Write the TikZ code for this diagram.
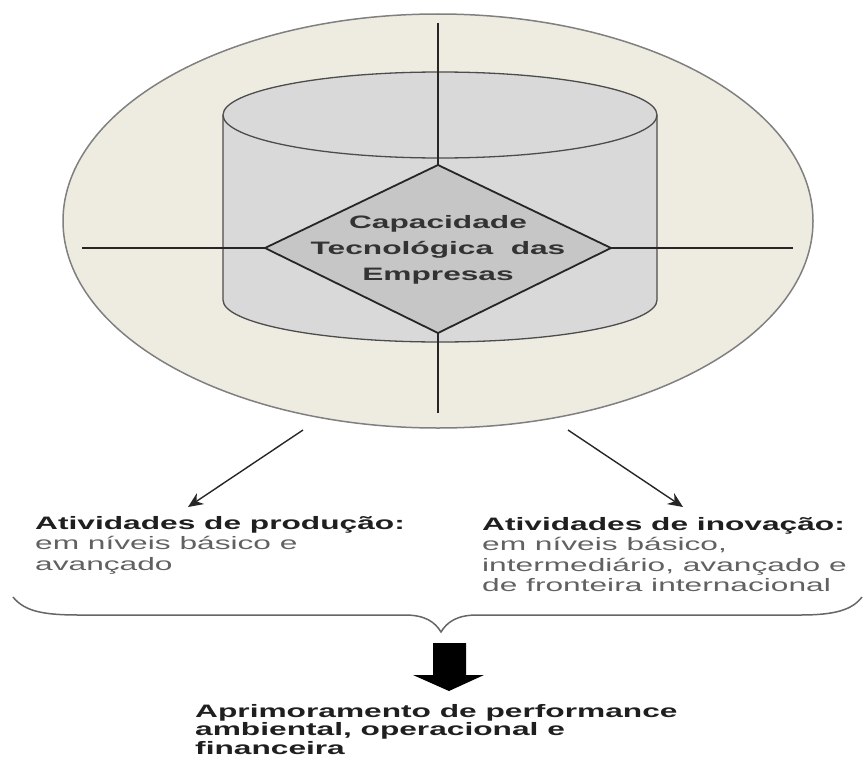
\documentclass[tikz,border=0pt]{standalone}
\usepackage{fontspec}
\newfontfamily\widesans[FakeStretch=1.76]{Liberation Sans}
\usetikzlibrary{arrows.meta}

\definecolor{discbeige}{HTML}{EEECE1}
\definecolor{cylgray}{HTML}{D9D9D9}
\definecolor{diagray}{HTML}{C6C6C6}

\begin{document}
\begin{tikzpicture}[x=1pt,y=-1pt,
    cross/.style={draw=black!85, line width=1.8pt},
    cylline/.style={draw=black!70, line width=1.3pt},
    pointer/.style={draw=black!85, line width=1.4pt, -{Stealth[length=15pt,width=13pt]}},
    note/.style={font=\widesans\fontsize{18}{20.4}\selectfont, text=black!62, align=left, inner sep=0pt, anchor=north west},
    title/.style={font=\widesans\bfseries, text=black!88}]
    \useasboundingbox (0,0) rectangle (864,760);

    % outer disc
    \filldraw[fill=discbeige, draw=black!50, line width=1.5pt] (438,221) ellipse [x radius=375, y radius=207];

    % cylinder
    \fill[cylgray] (223,115) rectangle (657,300);
    \fill[cylgray] (440,300) ellipse [x radius=217, y radius=42];
    \draw[cylline] (223,115) -- (223,300) arc[start angle=180, end angle=0, x radius=217, y radius=42] -- (657,115);
    \filldraw[fill=cylgray, cylline] (440,115) ellipse [x radius=217, y radius=43];

    % cross
    \coordinate (dN) at (438,165);
    \coordinate (dS) at (438,333);
    \coordinate (dW) at (265,248);
    \coordinate (dE) at (611,248);
    \coordinate (cN) at (438,23);
    \coordinate (cS) at (438,413);
    \coordinate (cW) at (82,248);
    \coordinate (cE) at (793,248);
    \draw[cross] (cN) -- (dN);
    \draw[cross] (dS) -- (cS);
    \draw[cross] (cW) -- (dW);
    \draw[cross] (dE) -- (cE);

    % diamond
    \filldraw[fill=diagray, draw=black!85, line width=1.8pt, line join=round] (dN) -- (dE) -- (dS) -- (dW) -- cycle;
    \node[font=\widesans\bfseries\fontsize{18}{26}\selectfont, text=black!80, align=center, inner sep=0pt] (core) at (438,250)
        {Capacidade\\Tecnológica\ \ das\\Empresas};

    % activities
    \node[note] (prod) at (35,516)
        {{\bfseries\color{black!88}Atividades de produção:}\\em níveis básico e\\avançado};
    \node[note] (inov) at (482,517)
        {{\bfseries\color{black!88}Atividades de inovação:}\\em níveis básico,\\intermediário, avançado e\\de fronteira internacional};

    \coordinate (lfrom) at (303,430);
    \coordinate (lto) at (188,507);
    \coordinate (rfrom) at (568,430);
    \coordinate (rto) at (683,507);
    \draw[pointer] (lfrom) -- (lto);
    \draw[pointer] (rfrom) -- (rto);

    % brace
    \draw[black!60, line width=1.5pt] (13,597) .. controls (25,612) and (45,615) .. (80,615)
        -- (405,615) .. controls (425,615) and (435,622) .. (441,632)
        .. controls (447,622) and (457,615) .. (477,615)
        -- (800,615) .. controls (835,615) and (852,610) .. (862,597);

    % result
    \fill[black] (433,643) -- (466,643) -- (466,675) -- (484,675) -- (449,691) -- (413,675) -- (433,675) -- cycle;
    \node[note, font=\widesans\bfseries\fontsize{18}{18.5}\selectfont, text=black!88] (gain) at (195,704)
        {Aprimoramento de performance\\ambiental, operacional e\\financeira};
\end{tikzpicture}
\end{document}
